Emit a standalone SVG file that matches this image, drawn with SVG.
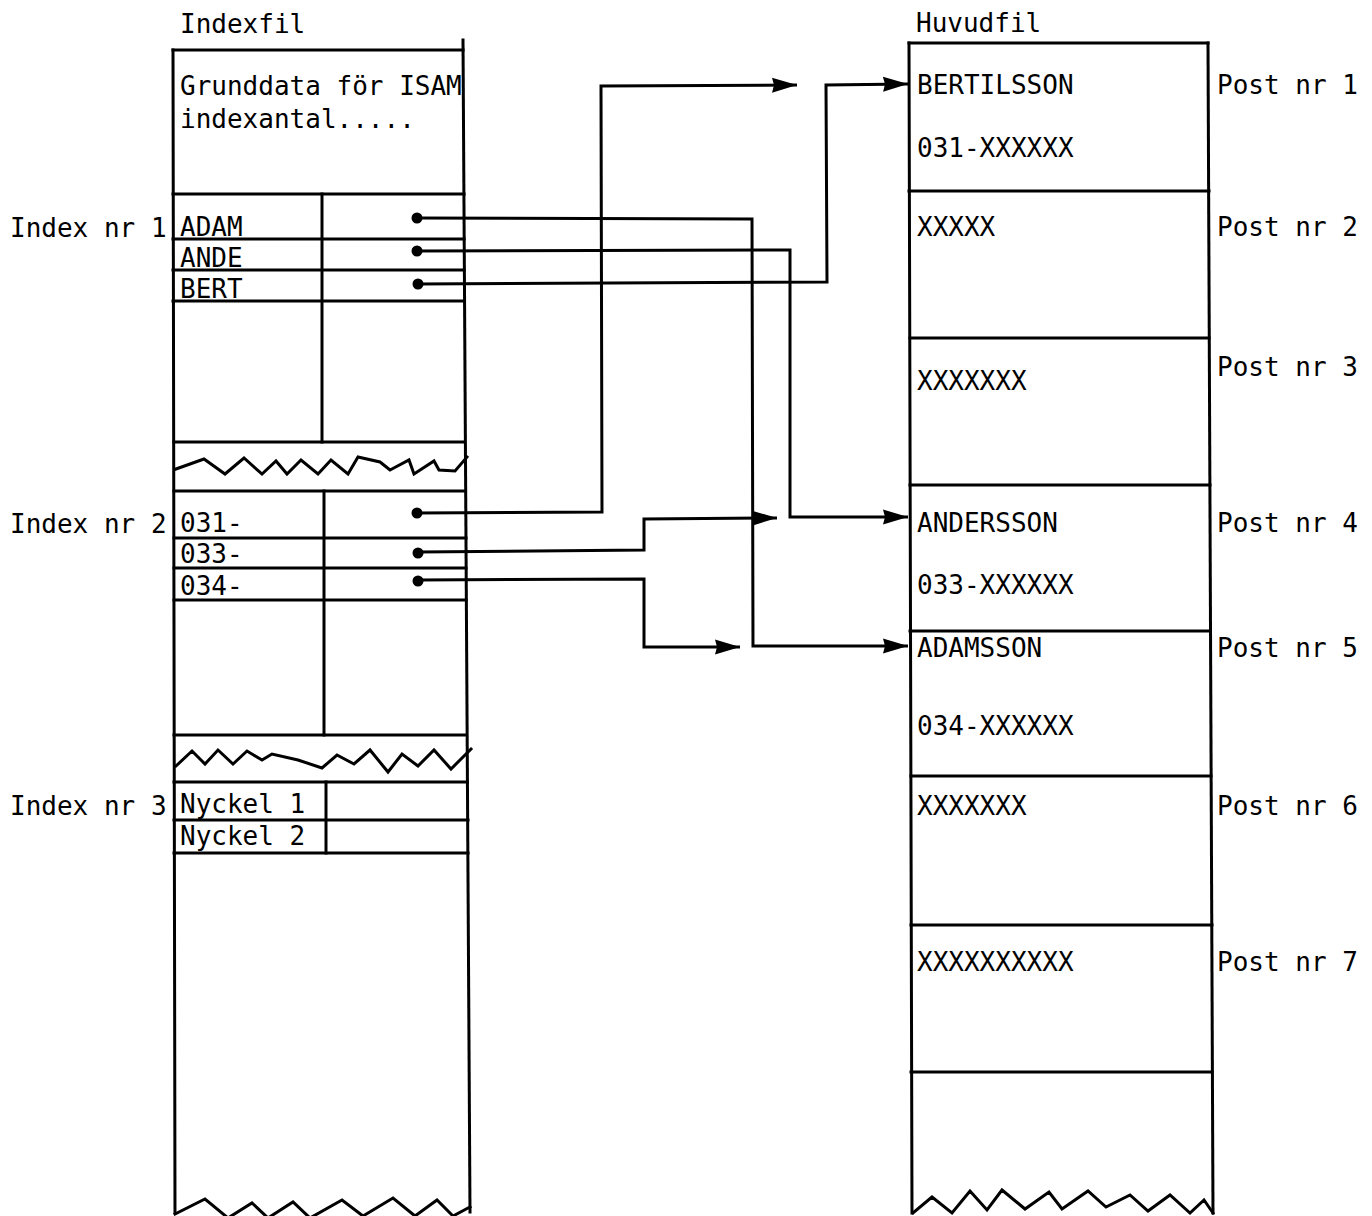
<svg xmlns="http://www.w3.org/2000/svg" width="1372" height="1216" viewBox="0 0 1372 1216">
<style>
text{font-family:"DejaVu Sans Mono","Liberation Mono",monospace;font-size:26px;fill:#000}
.ln{stroke:#000;stroke-width:3;fill:none;stroke-linecap:square;stroke-linejoin:miter}
.cn{stroke:#000;stroke-width:3;fill:none}
.dot{fill:#000}
</style>
<defs>
<marker id="ah" markerUnits="userSpaceOnUse" markerWidth="28" markerHeight="18" refX="25" refY="9" orient="auto">
<path d="M0,1.5 L25,9 L0,16.5 L2,9 z" fill="#000"/>
</marker>
</defs>
<rect width="1372" height="1216" fill="#fff"/>

<g id="indexfil">
<text x="180" y="33">Indexfil</text>
<line class="ln" x1="173" y1="50" x2="175" y2="1212"/>
<line class="ln" x1="463" y1="40" x2="470" y2="1212"/>
<line class="ln" x1="173" y1="50" x2="463" y2="50"/>
<text x="180" y="95">Grunddata för ISAM</text>
<text x="180" y="128">indexantal.....</text>
<line class="ln" x1="173" y1="194" x2="464" y2="194"/>
<path class="ln" d="M175,1214 L205,1199 L228,1218 L252,1203 L268,1218 L293,1202 L310,1218 L342,1200 L363,1216 L393,1198 L415,1216 L437,1200 L453,1216 L470,1207"/>
</g>

<g id="index1">
<text x="10" y="237">Index nr 1</text>
<line class="ln" x1="322" y1="194" x2="322" y2="442"/>
<line class="ln" x1="173" y1="239" x2="464" y2="239"/>
<line class="ln" x1="173" y1="270" x2="464" y2="270"/>
<line class="ln" x1="173" y1="301" x2="464" y2="301"/>
<line class="ln" x1="174" y1="442" x2="464" y2="442"/>
<text x="180" y="236">ADAM</text>
<text x="180" y="267">ANDE</text>
<text x="180" y="298">BERT</text>
<path class="ln" d="M176,469 L204,459 L225,474 L244,458 L262,474 L276,461 L287,474 L301,460 L318,474 L331,460 L348,474 L358,457 L380,462 L390,470 L409,460 L414,474 L434,461 L439,470 L455,471 L467,457"/>
</g>

<g id="index2">
<text x="10" y="533">Index nr 2</text>
<line class="ln" x1="174" y1="491" x2="465" y2="491"/>
<line class="ln" x1="324" y1="491" x2="324" y2="735"/>
<line class="ln" x1="174" y1="538" x2="466" y2="538"/>
<line class="ln" x1="174" y1="568" x2="466" y2="568"/>
<line class="ln" x1="174" y1="600" x2="466" y2="600"/>
<line class="ln" x1="174" y1="735" x2="466" y2="735"/>
<text x="180" y="532">031-</text>
<text x="180" y="563">033-</text>
<text x="180" y="595">034-</text>
<path class="ln" d="M176,766 L192,751 L205,764 L218,750 L233,764 L247,751 L262,760 L272,754 L298,760 L322,768 L337,755 L354,764 L370,750 L388,772 L402,754 L418,766 L434,750 L451,769 L471,749"/>
</g>

<g id="index3">
<text x="10" y="815">Index nr 3</text>
<line class="ln" x1="174" y1="782" x2="467" y2="782"/>
<line class="ln" x1="326" y1="782" x2="326" y2="853"/>
<line class="ln" x1="174" y1="820" x2="468" y2="820"/>
<line class="ln" x1="174" y1="853" x2="468" y2="853"/>
<text x="180" y="813">Nyckel 1</text>
<text x="180" y="845">Nyckel 2</text>
</g>

<g id="huvudfil">
<text x="916" y="32">Huvudfil</text>
<line class="ln" x1="909" y1="43" x2="912" y2="1213"/>
<line class="ln" x1="1208" y1="43" x2="1213" y2="1213"/>
<line class="ln" x1="909" y1="43" x2="1208" y2="43"/>
<path class="ln" d="M913,1213 L932,1197 L952,1213 L970,1191 L987,1210 L1002,1190 L1025,1209 L1049,1192 L1062,1209 L1088,1191 L1106,1207 L1130,1195 L1148,1211 L1170,1195 L1190,1213 L1204,1200 L1213,1213"/>
</g>

<g id="post1">
<text x="917" y="94">BERTILSSON</text>
<text x="917" y="157">031-XXXXXX</text>
<text x="1217" y="94">Post nr 1</text>
<line class="ln" x1="909" y1="191" x2="1209" y2="191"/>
</g>
<g id="post2">
<text x="917" y="236">XXXXX</text>
<text x="1217" y="236">Post nr 2</text>
<line class="ln" x1="910" y1="338" x2="1209" y2="338"/>
</g>
<g id="post3">
<text x="917" y="390">XXXXXXX</text>
<text x="1217" y="376">Post nr 3</text>
<line class="ln" x1="910" y1="485" x2="1210" y2="485"/>
</g>
<g id="post4">
<text x="917" y="532">ANDERSSON</text>
<text x="917" y="594">033-XXXXXX</text>
<text x="1217" y="532">Post nr 4</text>
<line class="ln" x1="910" y1="631" x2="1210" y2="631"/>
</g>
<g id="post5">
<text x="917" y="657">ADAMSSON</text>
<text x="917" y="735">034-XXXXXX</text>
<text x="1217" y="657">Post nr 5</text>
<line class="ln" x1="911" y1="776" x2="1211" y2="776"/>
</g>
<g id="post6">
<text x="917" y="815">XXXXXXX</text>
<text x="1217" y="815">Post nr 6</text>
<line class="ln" x1="911" y1="925" x2="1212" y2="925"/>
</g>
<g id="post7">
<text x="917" y="971">XXXXXXXXXX</text>
<text x="1217" y="971">Post nr 7</text>
<line class="ln" x1="911" y1="1072" x2="1212" y2="1072"/>
</g>

<g id="connectors">
<circle class="dot" cx="417" cy="218" r="5.5"/>
<circle class="dot" cx="417" cy="251" r="5.5"/>
<circle class="dot" cx="418" cy="284" r="5.5"/>
<circle class="dot" cx="417" cy="513" r="5.5"/>
<circle class="dot" cx="418" cy="553" r="5.5"/>
<circle class="dot" cx="418" cy="581" r="5.5"/>
<path class="cn" d="M417,218 L752,219 L753,646 L908,646" marker-end="url(#ah)"/>
<path class="cn" d="M417,251 L790,250 L790,517 L908,517" marker-end="url(#ah)"/>
<path class="cn" d="M418,284 L827,282 L826,85 L908,84" marker-end="url(#ah)"/>
<path class="cn" d="M417,513 L602,512 L601,86 L797,85" marker-end="url(#ah)"/>
<path class="cn" d="M418,552 L644,550 L644,519 L777,518" marker-end="url(#ah)"/>
<path class="cn" d="M418,580 L644,579 L644,647 L740,647" marker-end="url(#ah)"/>
</g>
</svg>
